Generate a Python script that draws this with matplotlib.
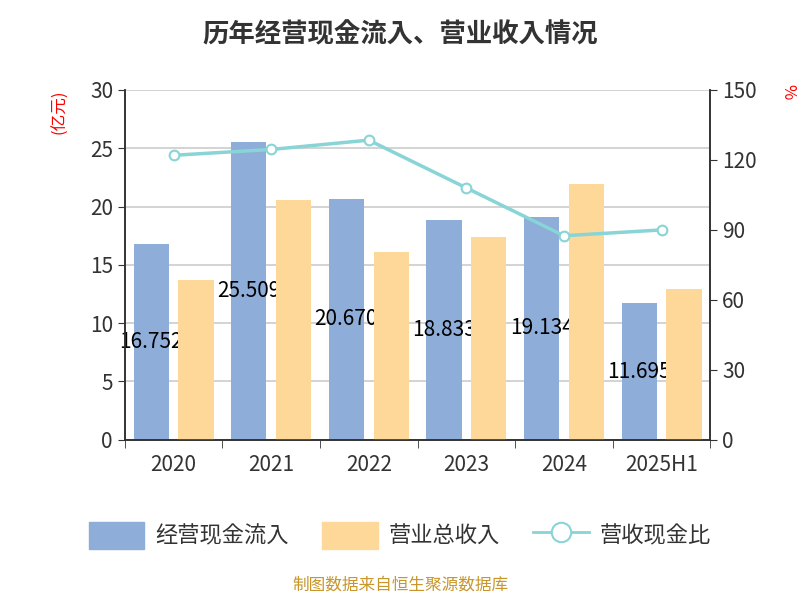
import matplotlib
matplotlib.use("Agg")
import matplotlib.pyplot as plt
import numpy as np

plt.rcParams['font.family'] = ['Noto Sans CJK SC', 'Noto Sans CJK JP', 'Noto Sans CJK TC', 'DejaVu Sans']
plt.rcParams['axes.unicode_minus'] = False

years = ["2020", "2021", "2022", "2023", "2024", "2025H1"]
cash_in = [16.752, 25.509, 20.670, 18.833, 19.134, 11.695]
revenue = [13.7, 20.6, 16.1, 17.4, 21.9, 12.9]
ratio = [122.0, 124.5, 128.5, 108.0, 87.5, 90.0]
cash_labels = ["16.752", "25.509", "20.670", "18.833", "19.134", "11.695"]

fig = plt.figure(figsize=(8, 6), dpi=100)
ax = fig.add_axes([0.156, 0.267, 0.732, 0.583])
ax2 = ax.twinx()
x = np.arange(len(years))
w = 0.36
blue, orange, teal = "#8eadd9", "#fed899", "#88d4d6"
ax.bar(x - 0.23, cash_in, w, color=blue, zorder=2)
ax.bar(x + 0.23, revenue, w, color=orange, zorder=4)
for xi, v, s in zip(x, cash_in, cash_labels):
    ax.text(xi - 0.23, v / 2, s, ha="center", va="center", fontsize=15, color="black", zorder=3)
ax.set_ylim(0, 30)
ax.set_yticks(range(0, 31, 5))
ax.set_xlim(-0.5, 5.5)
ax.set_xticks(x)
ax.set_xticklabels(years)
ax.set_xticks(np.arange(-0.5, 6, 1), minor=True)
ax.tick_params(axis="x", which="major", length=0, pad=10)
ax.tick_params(axis="x", which="minor", length=6, color="#333333")
ax.grid(axis="y", color="#cccccc", lw=1.2, zorder=0)
ax.set_axisbelow(True)
ax.tick_params(axis="y", labelsize=15, colors="#333333", length=5)
ax.tick_params(axis="x", labelsize=15, colors="#333333")
for a in (ax, ax2):
    a.spines["top"].set_visible(False)
    for s in ["left", "right", "bottom"]:
        a.spines[s].set_color("#333333")
        a.spines[s].set_linewidth(1.2)
ax2.plot(x, ratio, color=teal, lw=2.5, marker="o", ms=7, mfc="white", mec=teal, mew=1.5, zorder=5)
ax2.set_ylim(0, 150)
ax2.set_yticks(range(0, 151, 30))
ax2.tick_params(labelsize=15, colors="#333333", length=5)
ax.set_zorder(1); ax.patch.set_visible(False)
ax2.set_zorder(2)
fig.text(0.075, 0.85, "(亿元)", rotation=90, color="red", fontsize=12, ha="center", va="top")
fig.text(0.985, 0.86, "%", rotation=-90, color="red", fontsize=12, ha="center", va="top")
fig.suptitle("历年经营现金流入、营业收入情况", y=0.965, fontsize=19, fontweight="bold", color="#333333")

from matplotlib.patches import Patch
from matplotlib.lines import Line2D
handles = [Patch(color=blue), Patch(color=orange),
           Line2D([0], [0], color=teal, lw=2, marker="o", ms=14, mfc="white", mec=teal, mew=1.5)]
fig.legend(handles, ["经营现金流入", "营业总收入", "营收现金比"], loc="center", bbox_to_anchor=(0.5, 0.108),
           ncol=3, frameon=False, fontsize=16, handlelength=2.5, handleheight=1.5, columnspacing=1.5,
           handletextpad=0.5, labelcolor="#333333")
fig.text(0.5, 0.018, "制图数据来自恒生聚源数据库", ha="center", fontsize=12, color="#c8962a")
fig.savefig("out.png")
